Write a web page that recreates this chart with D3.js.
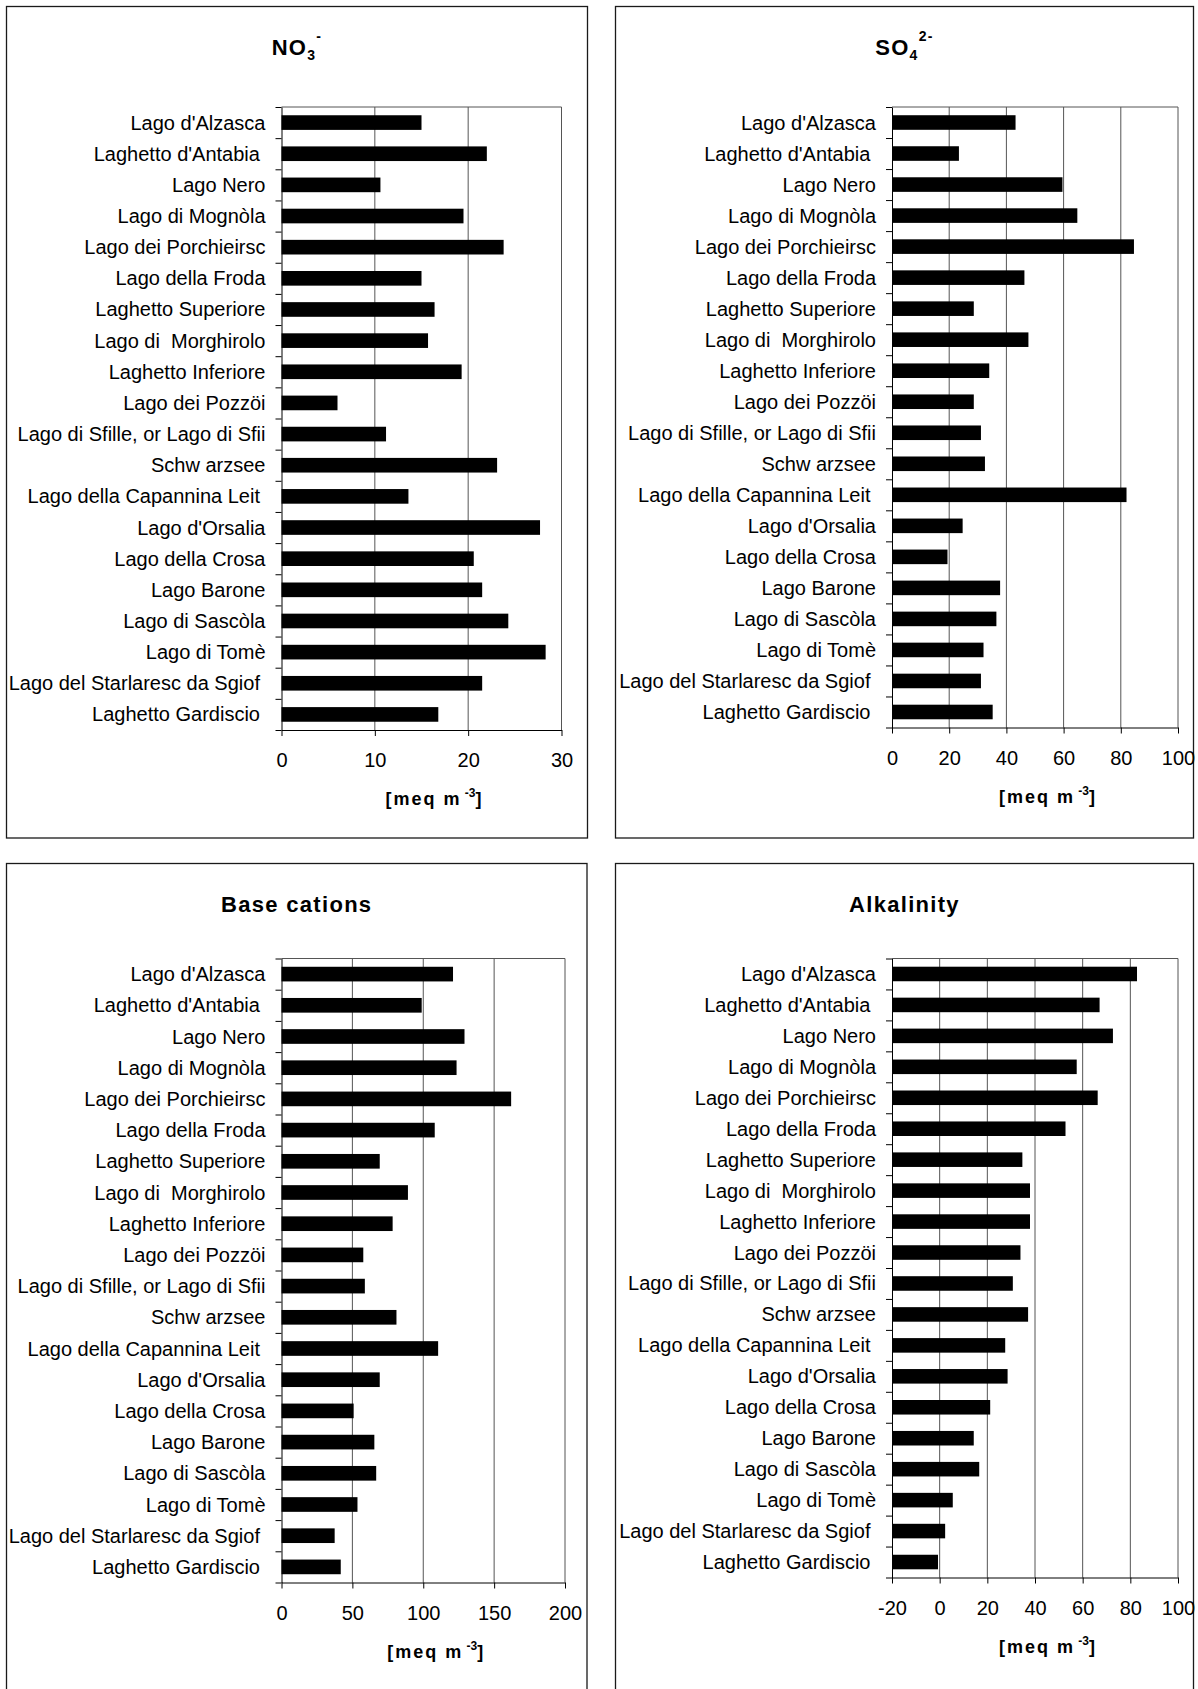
<!DOCTYPE html>
<html>
<head>
<meta charset="utf-8">
<script src="https://cdn.jsdelivr.net/npm/d3@7"></script>
<style>
  body { margin: 0; background: #fff; }
  svg text { font-family: "Liberation Sans", Arial, Helvetica, sans-serif; white-space: pre; }
</style>
</head>
<body>
<svg id="chart" width="1198" height="1689"></svg>
<script>
// Lakes, top to bottom
const lakes = [
  "Lago d'Alzasca",
  "Laghetto d'Antabia ",
  "Lago Nero",
  "Lago di Mognòla",
  "Lago dei Porchieirsc",
  "Lago della Froda",
  "Laghetto Superiore",
  "Lago di  Morghirolo",
  "Laghetto Inferiore",
  "Lago dei Pozzöi",
  "Lago di Sfille, or Lago di Sfii",
  "Schw arzsee",
  "Lago della Capannina Leit ",
  "Lago d'Orsalia",
  "Lago della Crosa",
  "Lago Barone",
  "Lago di Sascòla",
  "Lago di Tomè",
  "Lago del Starlaresc da Sgiof ",
  "Laghetto Gardiscio "
];

// Concentrations [meq m-3]
const no3 = [15.0, 22.0, 10.6, 19.5, 23.8, 15.0, 16.4, 15.7, 19.3, 6.0,
             11.2, 23.1, 13.6, 27.7, 20.6, 21.5, 24.3, 28.3, 21.5, 16.8];
const so4 = [43.2, 23.4, 59.6, 64.8, 84.6, 46.3, 28.6, 47.7, 34.0, 28.6,
             31.1, 32.5, 82.0, 24.7, 19.4, 37.8, 36.5, 32.0, 31.1, 35.2];
const baseCations = [121.0, 98.9, 129.1, 123.5, 162.0, 108.1, 69.3, 89.2, 78.4, 57.7,
                     58.8, 81.1, 110.5, 69.3, 50.9, 65.5, 66.8, 53.6, 37.5, 41.8];
const alkalinity = [82.8, 67.1, 72.7, 57.5, 66.3, 52.8, 34.7, 37.9, 37.9, 33.9,
                    30.7, 37.1, 27.5, 28.5, 21.2, 14.3, 16.6, 5.5, 2.3, -0.7];

// Axis ticks
const no3Ticks = [0, 10, 20, 30];
const so4Ticks = [0, 20, 40, 60, 80, 100];
const baseTicks = [0, 50, 100, 150, 200];
const alkTicks = [-20, 0, 20, 40, 60, 80, 100];

const svg = d3.select("#chart");

const panels = [
  { title: [["NO", 0], ["3", 1], ["-", 2]], values: no3, ticks: no3Ticks,
    box: { x: 6.5, y: 6.5, w: 581, h: 831.5 },
    plot: { x0: 281.5, x1: 561.5, y0: 107, y1: 730 } },
  { title: [["SO", 0], ["4", 1], ["2-", 2]], values: so4, ticks: so4Ticks,
    box: { x: 615.5, y: 6.5, w: 578, h: 831.5 },
    plot: { x0: 892, x1: 1178, y0: 107, y1: 727.5 } },
  { title: [["Base cations", 0]], values: baseCations, ticks: baseTicks,
    box: { x: 6.5, y: 863.5, w: 580.5, h: 900 },
    plot: { x0: 281.5, x1: 565, y0: 958.5, y1: 1582.5 } },
  { title: [["Alkalinity", 0]], values: alkalinity, ticks: alkTicks,
    box: { x: 615.5, y: 863.5, w: 578, h: 900 },
    plot: { x0: 892, x1: 1178, y0: 958.5, y1: 1577.5 } }
];

function drawPanel(p) {
  const g = svg.append("g");
  const { x0, x1, y0, y1 } = p.plot;

  // outer frame
  g.append("rect")
    .attr("x", p.box.x).attr("y", p.box.y)
    .attr("width", p.box.w).attr("height", p.box.h)
    .attr("fill", "none").attr("stroke", "#1a1a1a").attr("stroke-width", 1.3);

  // title with sub/superscripts
  const title = g.append("text")
    .attr("x", p.box.x + p.box.w / 2)
    .attr("y", p.box.y + 48)
    .attr("text-anchor", "middle")
    .attr("font-weight", "bold")
    .attr("font-size", 22)
    .attr("letter-spacing", 1.3);
  let shift = 0;
  p.title.forEach(([txt, kind]) => {
    const t = title.append("tspan").text(txt);
    if (kind === 1) { t.attr("font-size", 14).attr("dy", 5 - shift); shift = 5; }
    else if (kind === 2) { t.attr("font-size", 14).attr("dy", -14 - shift); shift = -14; }
  });

  const x = d3.scaleLinear()
    .domain([p.ticks[0], p.ticks[p.ticks.length - 1]])
    .range([x0, x1]);
  const y = d3.scaleBand()
    .domain(lakes)
    .range([y0, y1])
    .paddingInner(0.53)
    .paddingOuter(0.265);
  const rows = d3.scaleLinear().domain([0, lakes.length]).range([y0, y1]);

  // vertical gridlines
  g.append("g").selectAll("line")
    .data(p.ticks.slice(1))
    .join("line")
    .attr("x1", d => x(d)).attr("x2", d => x(d))
    .attr("y1", y0).attr("y2", y1)
    .attr("stroke", "#555").attr("stroke-width", 1);

  // plot-area top border
  g.append("line")
    .attr("x1", x0).attr("x2", x1)
    .attr("y1", y0).attr("y2", y0)
    .attr("stroke", "#555").attr("stroke-width", 1);

  // bars, drawn from the left end of the value axis
  const base = x(x.domain()[0]);
  g.append("g").selectAll("rect")
    .data(p.values)
    .join("rect")
    .attr("x", base)
    .attr("y", (d, i) => y(lakes[i]))
    .attr("width", d => x(d) - base)
    .attr("height", y.bandwidth())
    .attr("fill", "#000");

  // category axis: ticks on row boundaries
  g.append("g")
    .attr("transform", `translate(${x0},0)`)
    .call(d3.axisLeft(rows)
      .tickValues(d3.range(lakes.length + 1))
      .tickSize(6).tickSizeOuter(0)
      .tickFormat(""));

  // category labels
  g.append("g").selectAll("text")
    .data(lakes)
    .join("text")
    .attr("x", x0 - 16)
    .attr("y", d => y(d) + y.bandwidth() / 2 + 7)
    .attr("text-anchor", "end")
    .attr("font-size", 20)
    .attr("fill", "#000")
    .text(d => d);

  // value axis
  const xa = g.append("g")
    .attr("transform", `translate(0,${y1})`)
    .call(d3.axisBottom(x)
      .tickValues(p.ticks)
      .tickSize(6).tickSizeOuter(0)
      .tickFormat(d => String(d)));
  xa.selectAll("text")
    .attr("y", 37).attr("dy", null)
    .attr("font-size", 20)
    .attr("font-family", "Liberation Sans, Arial, sans-serif");

  // unit label
  const unit = g.append("text")
    .attr("x", (x0 + x1) / 2 + 13)
    .attr("y", y1 + 75)
    .attr("text-anchor", "middle")
    .attr("font-weight", "bold")
    .attr("font-size", 18)
    .attr("letter-spacing", 2);
  unit.append("tspan").text("[meq m");
  unit.append("tspan").attr("font-size", 12).attr("dy", -8).attr("letter-spacing", 0).text(" -3");
  unit.append("tspan").attr("dy", 8).text("]");
}

panels.forEach(drawPanel);
</script>
</body>
</html>
